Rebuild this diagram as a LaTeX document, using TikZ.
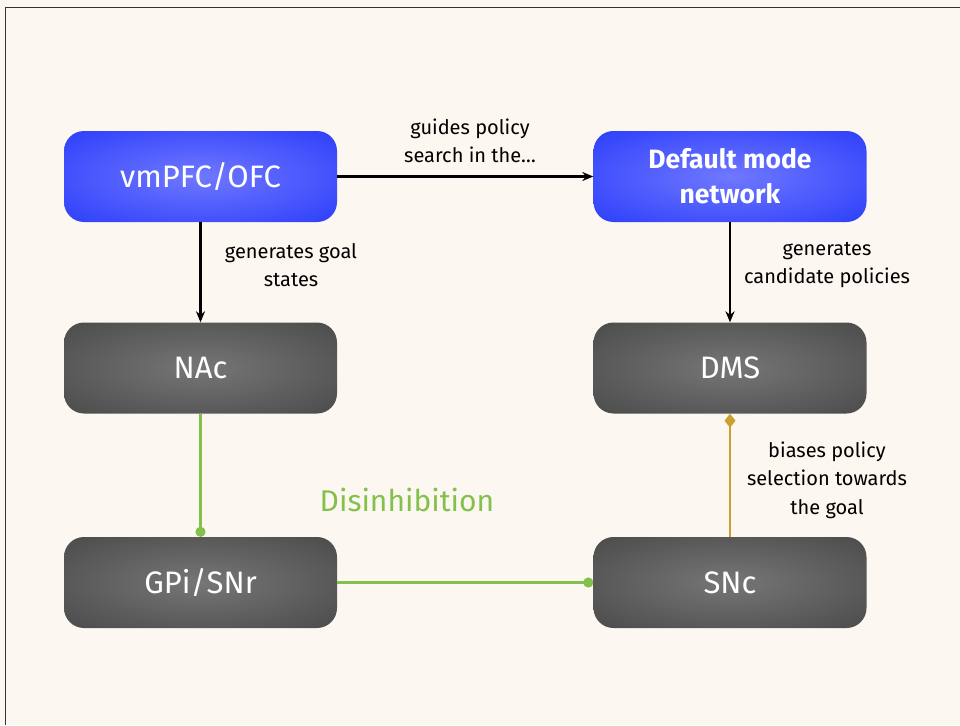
\documentclass[tikz,border=0pt]{standalone}
\usepackage{fontspec}
\setmainfont{Fira Sans}
\usetikzlibrary{arrows.meta}
\definecolor{bg}{HTML}{FCF7F0}
\definecolor{blueIn}{HTML}{7078FF}
\definecolor{blueOut}{HTML}{2438FA}
\definecolor{grayIn}{HTML}{767676}
\definecolor{grayOut}{HTML}{464646}
\definecolor{grn}{HTML}{84C04C}
\definecolor{gold}{HTML}{C9A031}
\pgfdeclareradialshading{blueshade}{\pgfpoint{0bp}{0bp}}{color(0bp)=(blueIn); color(40bp)=(blueOut); color(50bp)=(blueOut)}
\pgfdeclareradialshading{grayshade}{\pgfpoint{0bp}{0bp}}{color(0bp)=(grayIn); color(40bp)=(grayOut); color(50bp)=(grayOut)}
\tikzset{
  box/.style={rounded corners=20pt, minimum width=273pt, minimum height=91pt, inner sep=0pt,
    text=white, font=\fontsize{31}{35}\selectfont, align=center},
  bluebox/.style={box, shading=blueshade},
  graybox/.style={box, shading=grayshade},
  lbl/.style={font=\fontsize{20}{28.5}\selectfont, align=center, text=black},
  blk/.style={draw=black, line width=2.4pt, -{Stealth[length=11pt,width=9pt]}},
  grnline/.style={draw=grn, line width=2.6pt, -{Circle[length=10pt]}},
  goldline/.style={draw=gold, line width=2.8pt, -{Diamond[length=14pt,width=11pt]}}
}
\begin{document}
\begin{tikzpicture}[x=1pt,y=-1pt]
\fill[bg] (0,0) rectangle (960,725);
\useasboundingbox (0,0) rectangle (960,725);
\draw[line width=1pt, draw=black!80] (5.5,725) -- (5.5,7.5) -- (960,7.5);

\node[bluebox] (vm) at (200.5,176.5) {vmPFC/OFC};
\node[bluebox, font=\fontsize{26.5}{35}\selectfont\bfseries] (dmn) at (730,176.5) {Default mode\\network};
\node[graybox] (nac) at (200.5,368) {NAc};
\node[graybox] (dms) at (730,368) {DMS};
\node[graybox] (gpi) at (200.5,582.5) {GPi/SNr};
\node[graybox] (snc) at (730,582.5) {SNc};

\draw[blk] (vm) -- (dmn);
\draw[blk] (vm) -- (nac);
\draw[blk] (dmn) -- (dms);
\draw[grnline] (nac) -- (gpi);
\draw[grnline] (gpi) -- (snc);
\draw[goldline] (snc) -- (dms);

\node[lbl] (l1) at (470,141) {guides policy\\search in the…};
\node[lbl] (l2) at (291,265) {generates goal\\states};
\node[lbl] (l3) at (827,265) {generates\\candidate policies};
\node[lbl] (l4) at (827,480) {biases policy\\selection towards\\the goal};
\node[font=\fontsize{30}{34}\selectfont, text=grn] (dis) at (407,500) {Disinhibition};
\end{tikzpicture}
\end{document}
